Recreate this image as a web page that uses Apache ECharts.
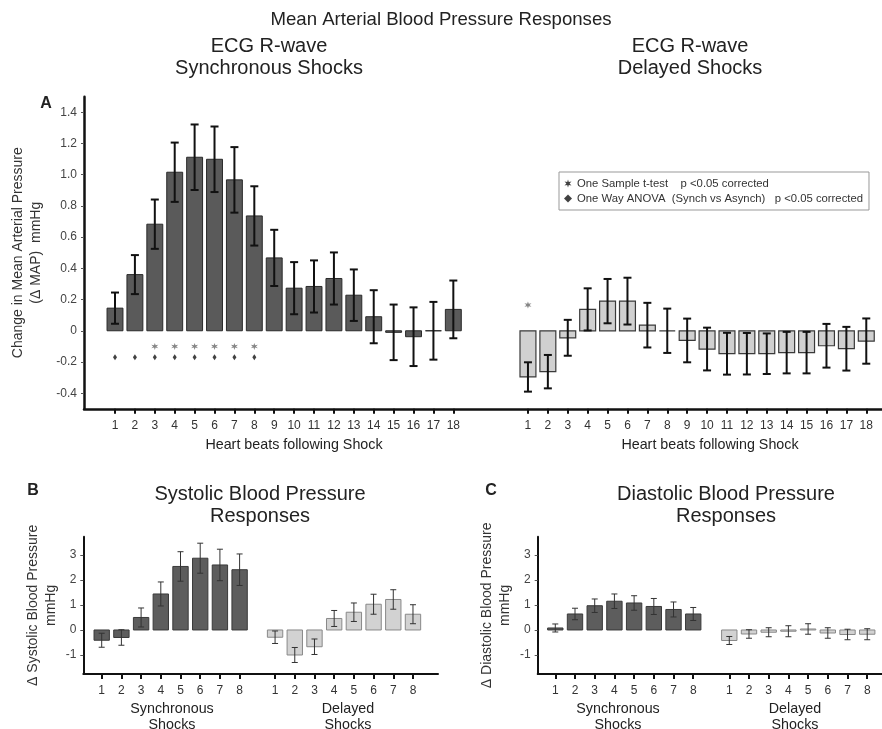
<!DOCTYPE html>
<html>
<head>
<meta charset="utf-8">
<script src="https://cdn.jsdelivr.net/npm/echarts@6/dist/echarts.min.js"></script>
<style>
html,body{margin:0;padding:0;background:#fff;}
#chart{width:882px;height:729px;}
</style>
</head>
<body>
<div id="chart"></div>
<script>
// ---------- data ----------
const beatLabelsA = ['1','2','3','4','5','6','7','8','9','10','11','12','13','14','15','16','17','18'];
const beatLabelsBC = ['1','2','3','4','5','6','7','8'];

// Panel A: change in mean arterial pressure (mmHg)
const mapSyncMean = [0.145,0.36,0.683,1.016,1.112,1.099,0.967,0.736,0.467,0.273,0.284,0.335,0.228,0.09,-0.01,-0.038,0.0,0.137];
const mapSyncErr  = [0.10,0.125,0.158,0.19,0.21,0.21,0.21,0.19,0.18,0.167,0.167,0.167,0.165,0.17,0.178,0.188,0.185,0.185];
const mapDelMean  = [-0.296,-0.262,-0.045,0.137,0.19,0.19,0.036,0.0,-0.062,-0.117,-0.147,-0.147,-0.147,-0.14,-0.14,-0.096,-0.115,-0.066];
const mapDelErr   = [0.094,0.107,0.115,0.135,0.142,0.15,0.143,0.142,0.14,0.137,0.134,0.133,0.13,0.133,0.133,0.14,0.14,0.145];
const sigTtestSync = [3,4,5,6,7,8];
const sigAnovaSync = [1,2,3,4,5,6,7,8];
const sigTtestDel  = [1];
const yTicksA = [-0.4,-0.2,0,0.2,0.4,0.6,0.8,1.0,1.2,1.4];

// Panel B: systolic
const sysSyncMean = [-0.41,-0.30,0.50,1.44,2.54,2.87,2.60,2.41];
const sysSyncErr  = [0.28,0.31,0.38,0.48,0.59,0.60,0.63,0.63];
const sysDelMean  = [-0.29,-1.0,-0.67,0.46,0.71,1.03,1.22,0.63];
const sysDelErr   = [0.25,0.30,0.31,0.32,0.37,0.40,0.39,0.38];

// Panel C: diastolic
const diaSyncMean = [0.08,0.64,0.97,1.15,1.08,0.94,0.82,0.64];
const diaSyncErr  = [0.16,0.23,0.27,0.29,0.29,0.32,0.30,0.26];
const diaDelMean  = [-0.42,-0.16,-0.09,-0.05,0.04,-0.12,-0.18,-0.17];
const diaDelErr   = [0.16,0.17,0.18,0.22,0.21,0.21,0.21,0.22];
const yTicksBC = [-1,0,1,2,3];

// ---------- layout ----------
const GAP_A = 20.75, GAP_B = 8.8, GAP_C = 8.83;
const FONT = '"Liberation Sans", Arial, sans-serif';
const legendT = 'One Sample t-test    p <0.05 corrected';
const legendA = 'One Way ANOVA  (Synch vs Asynch)   p <0.05 corrected';

function starPath(){
  let s = 'path://';
  for (let k = 0; k < 12; k++) {
    const a = (-90 + k * 30) * Math.PI / 180;
    const r = k % 2 === 0 ? 10 : 4;
    s += (k === 0 ? 'M' : 'L') + (10 + r * Math.cos(a)).toFixed(2) + ',' + (10 + r * Math.sin(a)).toFixed(2) + ' ';
  }
  return s + 'Z';
}
const STAR = starPath();

function build(means, errs, offset){
  return means.map((m, i) => [i + 1 + offset, m, errs[i]]);
}

function barRenderer(opt){
  return function(params, api){
    const x = api.value(0), m = api.value(1), e = api.value(2);
    const p0 = api.coord([x, 0]);
    const p1 = api.coord([x, m]);
    const pt = api.coord([x, m + e]);
    const pb = api.coord([x, m - e]);
    const w = api.size([opt.barW, 0])[0];
    const c = opt.cap / 2;
    return {
      type: 'group',
      children: [
        {type:'rect', shape:{x:p0[0]-w/2, y:Math.min(p0[1],p1[1]), width:w, height:Math.abs(p1[1]-p0[1])},
         style:{fill:opt.fill, stroke:opt.stroke, lineWidth:opt.bw}},
        {type:'line', shape:{x1:pt[0], y1:pt[1], x2:pb[0], y2:pb[1]}, style:{stroke:opt.ec, lineWidth:opt.ew}},
        {type:'line', shape:{x1:pt[0]-c, y1:pt[1], x2:pt[0]+c, y2:pt[1]}, style:{stroke:opt.ec, lineWidth:opt.ew}},
        {type:'line', shape:{x1:pb[0]-c, y1:pb[1], x2:pb[0]+c, y2:pb[1]}, style:{stroke:opt.ec, lineWidth:opt.ew}}
      ]
    };
  };
}

const styleA_dark  = {fill:'#5a5a5a', stroke:'#2a2a2a', bw:1, ec:'#111', ew:2, cap:8, barW:0.8};
const styleA_light = {fill:'#d0d0d0', stroke:'#3a3a3a', bw:1.2, ec:'#111', ew:2, cap:8, barW:0.8};
const styleB_dark  = {fill:'#5d5d5d', stroke:'#3a3a3a', bw:1, ec:'#333', ew:1, cap:6, barW:0.78};
const styleB_light = {fill:'#d2d2d2', stroke:'#888', bw:1, ec:'#333', ew:1, cap:6, barW:0.78};

const tickA = beatLabelsA.map((l, i) => i + 1).concat(beatLabelsA.map((l, i) => i + 1 + GAP_A));
const tickB = beatLabelsBC.map((l, i) => i + 1).concat(beatLabelsBC.map((l, i) => i + 1 + GAP_B));
const tickC = beatLabelsBC.map((l, i) => i + 1).concat(beatLabelsBC.map((l, i) => i + 1 + GAP_C));

function xAxisDef(grid, min, max, ticks, labels, gap, lw){
  return {
    type:'value', gridIndex:grid, min:min, max:max,
    splitLine:{show:false},
    axisLine:{show:true, onZero:false, lineStyle:{color:'#111', width:lw}},
    axisTick:{show:true, customValues:ticks, length:5, lineStyle:{color:'#111', width:2}},
    axisLabel:{customValues:ticks, color:'#333', fontSize:12, fontFamily:FONT, margin:11,
      formatter:function(v){ let i = Math.round(v); if (i > labels.length) i = Math.round(v - gap); return labels[i-1]; }}
  };
}

function yAxisDef(grid, min, max, ticks, name, gap, fmt, lw){
  return {
    type:'value', gridIndex:grid, min:min, max:max,
    splitLine:{show:false},
    axisLine:{show:true, onZero:false, lineStyle:{color:'#111', width:lw}},
    axisTick:{show:true, customValues:ticks, length:3, lineStyle:{color:'#555', width:1}},
    axisLabel:{customValues:ticks, color:'#444', fontSize:12, fontFamily:FONT, margin:7, formatter:fmt},
    name:name, nameLocation:'middle', nameRotate:90, nameGap:gap,
    nameTextStyle:{color:'#333', fontSize:14, fontFamily:FONT, lineHeight:18}
  };
}

function title(text, left, top, size, bold, lh){
  return {text:text, left:left, top:top, padding:0, textAlign:'center',
    textStyle:{fontFamily:FONT, fontSize:size, fontWeight:bold?'bold':'normal', color:'#222', lineHeight:lh || size+4}};
}

const option = {
  animation:false,
  backgroundColor:'#fff',
  title:[
    title('Mean Arterial Blood Pressure Responses', 441, 9, 18.6, false, 22),
    title('ECG R-wave\nSynchronous Shocks', 269, 35, 20, false, 22),
    title('ECG R-wave\nDelayed Shocks', 690, 35, 20, false, 22),
    title('A', 46, 94, 16, true),
    title('Heart beats following Shock', 294, 437, 14.3, false, 16),
    title('Heart beats following Shock', 710, 437, 14.3, false, 16),
    title('B', 33, 481, 16, true),
    title('C', 491, 481, 16, true),
    title('Systolic Blood Pressure\nResponses', 260, 483, 20, false, 22),
    title('Diastolic Blood Pressure\nResponses', 726, 483, 20, false, 22),
    title('Synchronous\nShocks', 172, 701, 14.3, false, 16),
    title('Delayed\nShocks', 348, 701, 14.3, false, 16),
    title('Synchronous\nShocks', 618, 701, 14.3, false, 16),
    title('Delayed\nShocks', 795, 701, 14.3, false, 16)
  ],
  legend:{
    show:true, orient:'vertical', left:559, top:172, selectedMode:false,
    borderColor:'#999', borderWidth:1, padding:[6,6,6,5], itemGap:4,
    itemWidth:8, itemHeight:8,
    textStyle:{fontFamily:FONT, fontSize:11.3, color:'#333'},
    data:[{name:legendT, icon:STAR, itemStyle:{color:'#111'}}, {name:legendA, icon:'diamond', itemStyle:{color:'#111'}}]
  },
  grid:[
    {left:84, top:96.7, width:798, height:312.1, outerBoundsMode:'none'},
    {left:83.3, top:536.7, width:354.7, height:137.3, outerBoundsMode:'none'},
    {left:537.7, top:536.7, width:344.3, height:137.3, outerBoundsMode:'none'}
  ],
  xAxis:[
    xAxisDef(0, -0.558, 39.54, tickA, beatLabelsA, GAP_A, 2.5),
    xAxisDef(1, 0.066, 18.07, tickB, beatLabelsBC, GAP_B, 2),
    xAxisDef(2, 0.107, 17.58, tickC, beatLabelsBC, GAP_C, 2)
  ],
  yAxis:[
    yAxisDef(0, -0.5, 1.5, yTicksA, 'Change in Mean Arterial Pressure\n(Δ MAP)  mmHg', 39,
      function(v){ return v === 0 ? '0' : v.toFixed(1); }, 2.5),
    yAxisDef(1, -1.76, 3.73, yTicksBC, 'Δ Systolic Blood Pressure\nmmHg', 23, function(v){ return String(v); }, 2),
    yAxisDef(2, -1.76, 3.73, yTicksBC, 'Δ Diastolic Blood Pressure\nmmHg', 24, function(v){ return String(v); }, 2)
  ],
  series:[
    {type:'custom', xAxisIndex:0, yAxisIndex:0, silent:true, renderItem:barRenderer(styleA_dark), data:build(mapSyncMean, mapSyncErr, 0)},
    {type:'custom', xAxisIndex:0, yAxisIndex:0, silent:true, renderItem:barRenderer(styleA_light), data:build(mapDelMean, mapDelErr, GAP_A)},
    {type:'scatter', name:legendT, xAxisIndex:0, yAxisIndex:0, silent:true, symbol:STAR, symbolSize:7,
      itemStyle:{color:'#666'},
      data:sigTtestSync.map(b => [b, -0.1]).concat(sigTtestDel.map(b => [b + GAP_A, 0.165]))},
    {type:'scatter', name:legendA, xAxisIndex:0, yAxisIndex:0, silent:true, symbol:'diamond', symbolSize:[4,6],
      itemStyle:{color:'#111'},
      data:sigAnovaSync.map(b => [b, -0.17])},
    {type:'custom', xAxisIndex:1, yAxisIndex:1, silent:true, renderItem:barRenderer(styleB_dark), data:build(sysSyncMean, sysSyncErr, 0)},
    {type:'custom', xAxisIndex:1, yAxisIndex:1, silent:true, renderItem:barRenderer(styleB_light), data:build(sysDelMean, sysDelErr, GAP_B)},
    {type:'custom', xAxisIndex:2, yAxisIndex:2, silent:true, renderItem:barRenderer(styleB_dark), data:build(diaSyncMean, diaSyncErr, 0)},
    {type:'custom', xAxisIndex:2, yAxisIndex:2, silent:true, renderItem:barRenderer(styleB_light), data:build(diaDelMean, diaDelErr, GAP_C)}
  ]
};

const chart = echarts.init(document.getElementById('chart'), null, {renderer:'canvas'});
chart.setOption(option);
</script>
</body>
</html>
